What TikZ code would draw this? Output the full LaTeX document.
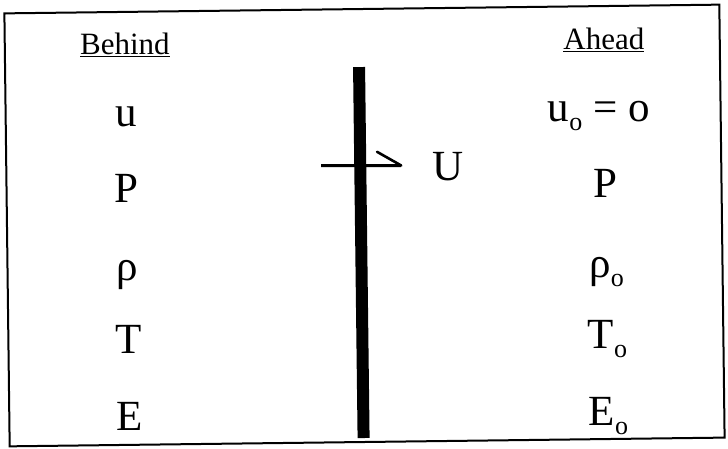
\documentclass[tikz,border=0pt]{standalone}
\usepackage{fontspec}
\setmainfont{Liberation Serif}
\newcommand{\subo}{\raisebox{-9pt}{\fontsize{26}{26}\selectfont o}}
\begin{document}
\begin{tikzpicture}[x=1pt,y=-1pt,
  big/.style={font=\fontsize{43}{43}\selectfont, anchor=base, inner sep=0pt},
  head/.style={font=\fontsize{31}{31}\selectfont, anchor=base, inner sep=0pt},
  framebox/.style={line width=2pt},
  thin/.style={line width=3pt},
  barb/.style={line width=2.6pt, line cap=round}]
\useasboundingbox (0,0) rectangle (728,449);
\fill[white] (0,0) rectangle (728,449);
\begin{scope}[rotate around={0.7:(364,226)}]
  \draw[framebox] (7,9) rectangle (722,442);
  % shock front
  \fill (355,67) rectangle (367,438);
  % velocity arrow
  \coordinate (a0) at (322,165);
  \coordinate (a1) at (402,166);
  \coordinate (ab) at (378,152);
  \draw[thin] (a0) -- (a1);
  \draw[barb] (ab) -- (a1);
  \node[big] (U) at (449,182) {U};
  % behind column
  \node[head] (behind) at (127,52) {\underline{Behind}};
  \node[big] (u) at (127,124) {u};
  \node[big] (P) at (127,200) {P};
  \node[big] (rho) at (127,278) {ρ};
  \node[big] (T) at (127,351) {T};
  \node[big] (E) at (127,428) {E};
  % ahead column
  \node[head] (ahead) at (606,52) {\underline{Ahead}};
  \node[big] (u0) at (600,124) {u\subo{} = o};
  \node[big] (P0) at (606,200) {P};
  \node[big] (rho0) at (606,280) {ρ\subo};
  \node[big] (T0) at (606,351) {T\subo};
  \node[big] (E0) at (606,428) {E\subo};
\end{scope}
\end{tikzpicture}
\end{document}
